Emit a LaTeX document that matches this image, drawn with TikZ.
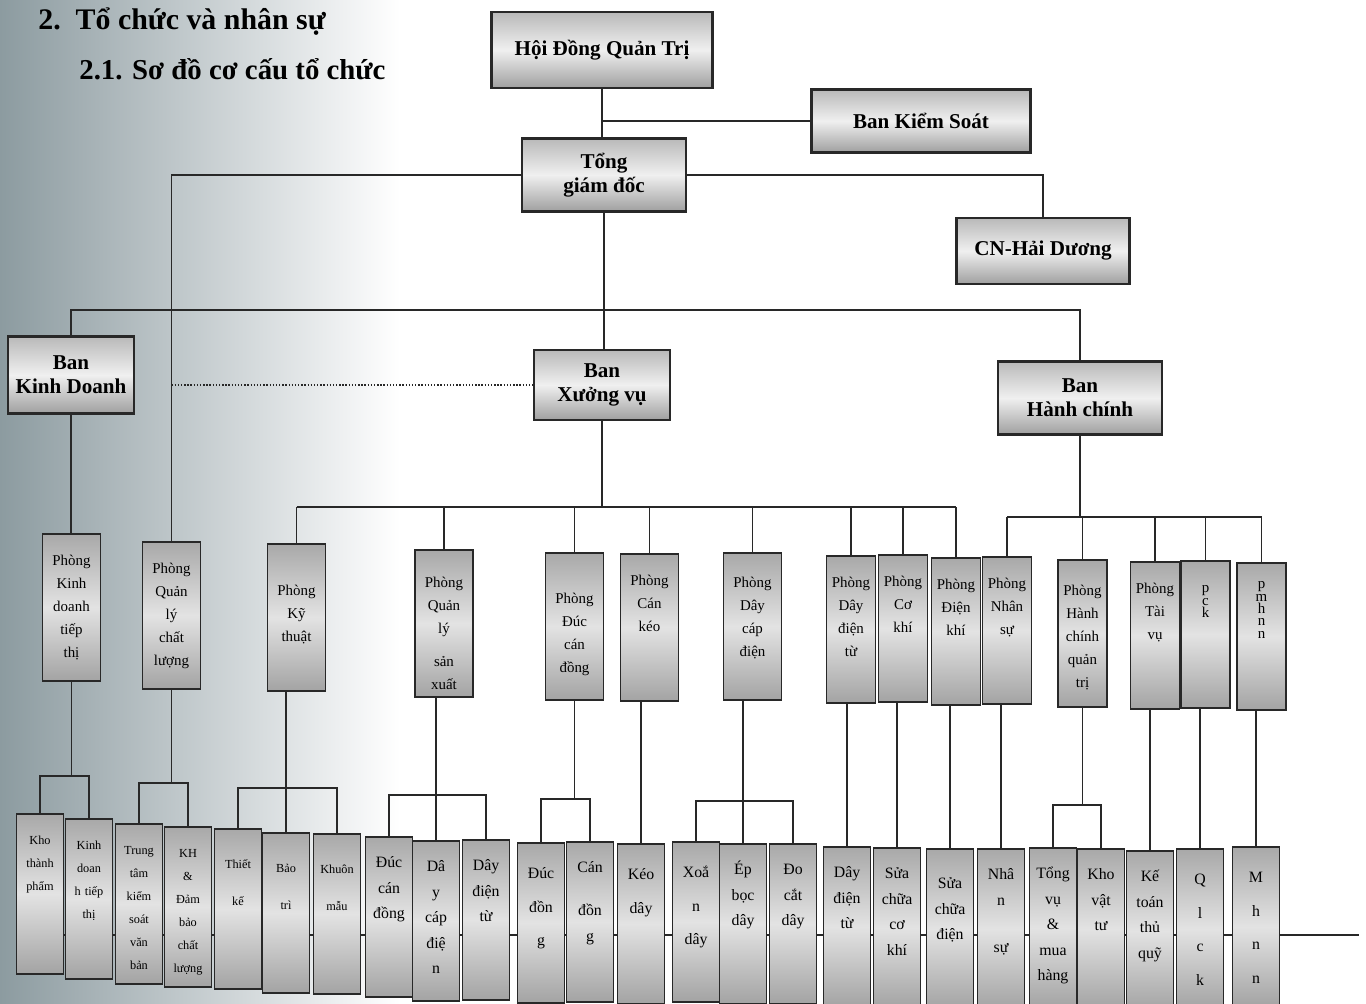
\documentclass[tikz,border=0pt]{standalone}
\usepackage{fontspec}
\setmainfont{Liberation Serif}
\usetikzlibrary{backgrounds}

\begin{document}
\begin{tikzpicture}[
  x=0.2mm, y=-0.2mm,
  link/.style={draw=ink, line width=0.8pt},
  head/.style={draw=ink, line width=1.2pt, top color=gray!55, bottom color=gray!75, middle color=gray!12, align=center, font=\bfseries\fontsize{12}{13.5}\selectfont},
  dept/.style={draw=ink, line width=1pt, top color=gray!68, bottom color=gray!72, middle color=gray!22, anchor=north, align=center, inner sep=0pt, text width=11.6mm, text height=6.4mm, text depth=23mm, font=\fontsize{8.5}{13}\selectfont},
  slim/.style={text width=9.8mm},
  tight/.style={font=\fontsize{8.5}{7}\selectfont},
  unit/.style={dept, text width=9.4mm, text height=6.2mm, text depth=25.8mm, font=\fontsize{9}{14.5}\selectfont},
  tiny/.style={font=\fontsize{7}{13}\selectfont},
  sparse/.style={font=\fontsize{7}{21}\selectfont, text height=8mm, text depth=24mm},
  loose/.style={font=\fontsize{9}{19}\selectfont, text height=7.2mm, text depth=24.8mm},
  headline/.style={anchor=base west, inner sep=0pt, font=\bfseries\fontsize{17}{20}\selectfont}
]

\definecolor{ink}{RGB}{40,40,40}
\definecolor{scan}{RGB}{140,155,160}

\useasboundingbox (0,0) rectangle (1366,1003);

\node[headline] (h1) at (38,30) {2.\enspace Tổ chức và nhân sự};
\node[headline, font=\bfseries\fontsize{16.4}{20}\selectfont] (h2) at (79,80) {2.1. Sơ đồ cơ cấu tổ chức};

% top levels
\node[head, minimum width=44.2mm, minimum height=15.2mm] (hdqt) at (602,50) {Hội Đồng Quản Trị};
\node[head, minimum width=43.8mm, minimum height=12.6mm] (bks) at (921,121) {Ban Kiểm Soát};
\node[head, minimum width=32.8mm, minimum height=14.6mm] (tgd) at (604,175) {Tổng\\giám đốc};
\node[head, minimum width=34.6mm, minimum height=13.2mm] (cnhd) at (1043,251) {CN-Hải Dương};
\node[head, minimum width=25.2mm, minimum height=15.4mm] (bkd) at (71,375) {Ban\\Kinh Doanh};
\node[head, minimum width=27.2mm, minimum height=14mm] (bxv) at (602,385) {Ban\\Xưởng vụ};
\node[head, minimum width=32.8mm, minimum height=14.6mm] (bhc) at (1080,398) {Ban\\Hành chính};

% phong
\node[dept] (kdtt) at (71.5,533) {Phòng\\Kinh\\doanh\\tiếp\\thị};
\node[dept] (qlcl) at (171.5,541) {Phòng\\Quản\\lý\\chất\\lượng};
\node[dept, text height=10.4mm, text depth=19mm] (kt) at (296.5,543) {Phòng\\Kỹ\\thuật};
\node[dept, text height=7.6mm, text depth=21.8mm] (qlsx) at (444,549) {Phòng\\Quản\\lý\\[2mm]sản\\xuất};
\node[dept, text height=10.2mm, text depth=19.2mm] (dcd) at (574.5,552) {Phòng\\Đúc\\cán\\đồng};
\node[dept] (ck) at (649.5,553) {Phòng\\Cán\\kéo};
\node[dept, text height=7mm, text depth=22.4mm] (dcp) at (752.5,552) {Phòng\\Dây\\cáp\\điện};
\node[dept, slim] (ddt) at (851,555) {Phòng\\Dây\\điện\\từ};
\node[dept, slim] (cokhi) at (903,554) {Phòng\\Cơ\\khí};
\node[dept, slim] (dienkhi) at (956,557) {Phòng\\Điện\\khí};
\node[dept, slim] (ns) at (1007,556) {Phòng\\Nhân\\sự};
\node[dept, slim, text height=7.2mm, text depth=22.2mm] (hcqt) at (1082.5,559) {Phòng\\Hành\\chính\\quản\\trị};
\node[dept, slim] (tv) at (1155,561) {Phòng\\Tài\\vụ};
\node[dept, slim, tight] (pck) at (1205.5,560) {p\\c\\k};
\node[dept, slim, tight, text height=5.2mm, text depth=24.2mm] (pmhnn) at (1261.5,562) {p\\m\\h\\n\\n};

% bottom row
\node[unit, tiny] (b1) at (40,813) {Kho\\thành\\phẩm};
\node[unit, tiny] (b2) at (89,818) {Kinh\\doan\\h tiếp\\thị};
\node[unit, tiny] (b3) at (139,823) {Trung\\tâm\\kiểm\\soát\\văn\\bản};
\node[unit, tiny] (b4) at (188,826) {KH\\\&\\Đảm\\bảo\\chất\\lượng};
\node[unit, sparse] (b5) at (238,828) {Thiết\\kế};
\node[unit, sparse] (b6) at (286,832) {Bảo\\trì};
\node[unit, sparse] (b7) at (337,833) {Khuôn\\mẫu};
\node[unit] (b8) at (389,836) {Đúc\\cán\\đồng};
\node[unit] (b9) at (436,840) {Dâ\\y\\cáp\\điệ\\n};
\node[unit] (b10) at (486,839) {Dây\\điện\\từ};
\node[unit, loose] (b11) at (541,842) {Đúc\\đồn\\g};
\node[unit] (b12) at (590,841) {Cán\\[3.5mm]đồn\\g};
\node[unit, loose] (b13) at (641,843) {Kéo\\dây};
\node[unit, loose] (b14) at (696,841) {Xoắ\\n\\dây};
\node[unit] (b15) at (743,843) {Ép\\bọc\\dây};
\node[unit] (b16) at (793,843) {Đo\\cắt\\dây};
\node[unit] (b17) at (847,846) {Dây\\điện\\từ};
\node[unit] (b18) at (897,847) {Sửa\\chữa\\cơ\\khí};
\node[unit, text height=8mm, text depth=24mm] (b19) at (950,848) {Sửa\\chữa\\điện};
\node[unit] (b20) at (1001,848) {Nhâ\\n\\[4.4mm]sự};
\node[unit] (b21) at (1053,847) {Tổng\\vụ\\\&\\mua\\hàng};
\node[unit] (b22) at (1101,848) {Kho\\vật\\tư};
\node[unit] (b23) at (1150,850) {Kế\\toán\\thủ\\quỹ};
\node[unit, loose] (b24) at (1200,848) {Q\\l\\c\\k};
\node[unit, loose] (b25) at (1256,846) {M\\h\\n\\n};

% connectors
\draw[link] (hdqt.south) -- (hdqt.south |- tgd.north);
\draw[link] (hdqt.south |- bks.west) -- (bks.west);
\draw[link] (tgd.east) -| (cnhd.north);
\draw[link] (tgd.west) -| (qlcl.north);
\draw[link] (tgd.south) -- (tgd.south |- bxv.north);
\coordinate (bus) at (603,310);
\draw[link] (bkd.north) |- (bus) -| (bhc.north);
\draw[link, densely dotted] (qlcl.north |- bxv.west) -- (bxv.west);
\draw[link] (bkd.south) -- (bkd.south |- kdtt.north);

\coordinate (xvbus) at (602,507);
\draw[link] (bxv.south) -- (xvbus);
\draw[link] (kt.north |- xvbus) -- (dienkhi.north |- xvbus);
\foreach \d in {kt,qlsx,dcd,ck,dcp,ddt,cokhi,dienkhi}
  \draw[link] (\d.north |- xvbus) -- (\d.north);

\coordinate (hcbus) at (1080,517);
\draw[link] (bhc.south) -- (hcbus);
\draw[link] (ns.north |- hcbus) -- (pmhnn.north |- hcbus);
\foreach \d in {ns,hcqt,tv,pck,pmhnn}
  \draw[link] (\d.north |- hcbus) -- (\d.north);

\draw[link] (kdtt.south) -- (kdtt.south |- 0,776);
\draw[link] (b1.north) |- (b2.north |- 0,776) -- (b2.north);
\draw[link] (qlcl.south) -- (qlcl.south |- 0,783);
\draw[link] (b3.north) |- (b4.north |- 0,783) -- (b4.north);
\draw[link] (b6.north |- kt.south) -- (b6.north);
\draw[link] (b5.north) |- (b7.north |- 0,788) -- (b7.north);
\draw[link] (b9.north |- qlsx.south) -- (b9.north);
\draw[link] (b8.north) |- (b10.north |- 0,795) -- (b10.north);
\draw[link] (dcd.south) -- (dcd.south |- 0,799);
\draw[link] (b11.north) |- (b12.north |- 0,799) -- (b12.north);
\draw[link] (b13.north |- ck.south) -- (b13.north);
\draw[link] (b15.north |- dcp.south) -- (b15.north);
\draw[link] (b14.north) |- (b16.north |- 0,801) -- (b16.north);
\draw[link] (b17.north |- ddt.south) -- (b17.north);
\draw[link] (b18.north |- cokhi.south) -- (b18.north);
\draw[link] (b19.north |- dienkhi.south) -- (b19.north);
\draw[link] (b20.north |- ns.south) -- (b20.north);
\draw[link] (hcqt.south) -- (hcqt.south |- 0,805);
\draw[link] (b21.north) |- (b22.north |- 0,805) -- (b22.north);
\draw[link] (b23.north |- tv.south) -- (b23.north);
\draw[link] (b24.north |- pck.south) -- (b24.north);
\draw[link] (b25.north |- pmhnn.south) -- (b25.north);

\begin{scope}[on background layer]
  \fill[left color=scan, right color=white] (0,0) rectangle (400,1003);
  \coordinate (rowend) at (1359,935);
  \draw[link] (b1 |- rowend) -- (rowend);
\end{scope}

\end{tikzpicture}
\end{document}
